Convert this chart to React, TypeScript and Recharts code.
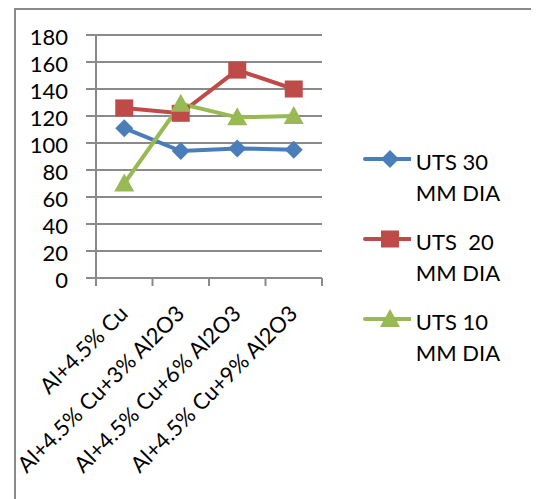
import { LineChart, Line, XAxis, YAxis, CartesianGrid, Legend } from 'recharts';

const CATEGORIES = [
  'Al+4.5% Cu',
  'Al+4.5% Cu+3% Al2O3',
  'Al+4.5% Cu+6% Al2O3',
  'Al+4.5% Cu+9% Al2O3',
];
const UTS_30 = [111, 94, 96, 95];
const UTS_20 = [126, 122, 154, 140];
const UTS_10 = [70, 129, 119, 120];
const Y_TICKS = [0, 20, 40, 60, 80, 100, 120, 140, 160, 180];

const SERIES = [
  { key: 'uts30', name: 'UTS 30 MM DIA', color: '#4a7ebb', shape: 'diamond', values: UTS_30 },
  { key: 'uts20', name: 'UTS  20 MM DIA', color: '#be4b48', shape: 'square', values: UTS_20 },
  { key: 'uts10', name: 'UTS 10 MM DIA', color: '#98b954', shape: 'triangle', values: UTS_10 },
];

const data = CATEGORIES.map((name, i) => {
  const row: Record<string, string | number> = { name };
  SERIES.forEach(s => { row[s.key] = s.values[i]; });
  return row;
});

const FONT = 'Lato, "Liberation Sans", sans-serif';
const GRID = '#8a8a8a';
const PLOT_W = 227;

function Marker({ shape, cx, cy, color }: { shape: string; cx: number; cy: number; color: string }) {
  if (shape === 'diamond') {
    return <polygon points={`${cx},${cy - 9} ${cx + 9},${cy} ${cx},${cy + 9} ${cx - 9},${cy}`} fill={color} />;
  }
  if (shape === 'square') {
    return <rect x={cx - 9} y={cy - 8.5} width={18} height={17} fill={color} />;
  }
  return <polygon points={`${cx},${cy - 10} ${cx + 10},${cy + 8} ${cx - 10},${cy + 8}`} fill={color} />;
}

// category ticks sit on the band edges, labels hang at -45deg under each band centre
function CategoryTick(props: any) {
  const { x, y, payload, index } = props;
  const half = payload?.offset || PLOT_W / CATEGORIES.length / 2;
  return (
    <g>
      <line x1={x - half} x2={x - half} y1={y} y2={y + 8} stroke={GRID} strokeWidth={2} />
      {index === CATEGORIES.length - 1 && (
        <line x1={x + half} x2={x + half} y1={y} y2={y + 8} stroke={GRID} strokeWidth={2} />
      )}
      <text
        transform={`translate(${x + 5},${y + 37}) rotate(-45)`}
        textAnchor="end"
        fontSize={22}
        fontFamily={FONT}
        fill="#000"
      >
        {payload.value}
      </text>
    </g>
  );
}

function SeriesLegend() {
  return (
    <div style={{ paddingLeft: 39, fontFamily: FONT }}>
      {SERIES.map(s => (
        <div key={s.key} style={{ display: 'flex', alignItems: 'flex-start', marginBottom: 18 }}>
          <svg width={56} height={31}>
            <line x1={3} x2={53} y1={13} y2={13} stroke={s.color} strokeWidth={4} strokeLinecap="round" />
            <Marker shape={s.shape} cx={28} cy={13} color={s.color} />
          </svg>
          <div style={{
            marginLeft: 5, width: 100, fontSize: 22, lineHeight: '31px',
            color: '#000', whiteSpace: 'pre-wrap',
          }}>
            {s.name}
          </div>
        </div>
      ))}
    </div>
  );
}

export default function App() {
  return (
    <div style={{
      marginLeft: 6, width: 525, height: 491, boxSizing: 'border-box',
      borderTop: `2px solid ${GRID}`, borderLeft: `2px solid ${GRID}`,
      fontFamily: FONT,
    }}>
      <LineChart width={523} height={489} data={data} margin={{ top: 25, right: 37, bottom: 0, left: 0 }}>
        <CartesianGrid vertical={false} stroke={GRID} strokeWidth={2} />
        <XAxis
          dataKey="name"
          scale="band"
          height={221}
          interval={0}
          tickSize={0}
          tickMargin={0}
          tickLine={false}
          axisLine={{ stroke: GRID, strokeWidth: 2 }}
          tick={<CategoryTick />}
        />
        <YAxis
          width={80}
          domain={[0, 180]}
          ticks={Y_TICKS}
          interval={0}
          tickSize={10}
          tickMargin={18}
          tickLine={{ stroke: GRID, strokeWidth: 2 }}
          axisLine={{ stroke: GRID, strokeWidth: 2 }}
          tick={{ fill: '#000', fontSize: 22, fontFamily: FONT, dy: 2 }}
        />
        <Legend
          layout="vertical"
          align="right"
          verticalAlign="top"
          wrapperStyle={{ width: 180, top: 136, left: 307, right: 'auto' }}
          content={<SeriesLegend />}
        />
        {SERIES.map(s => (
          <Line
            key={s.key}
            dataKey={s.key}
            name={s.name}
            stroke={s.color}
            strokeWidth={4}
            isAnimationActive={false}
            activeDot={false}
            dot={(p: any) => <Marker key={`${s.key}-${p.index}`} shape={s.shape} cx={p.cx} cy={p.cy} color={s.color} />}
          />
        ))}
      </LineChart>
    </div>
  );
}
